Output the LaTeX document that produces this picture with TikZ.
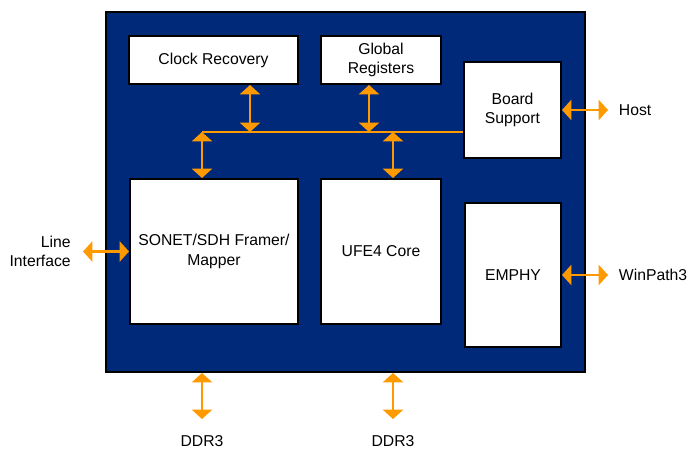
\documentclass[tikz,border=0pt]{standalone}
\usepackage{fontspec}
\setmainfont{Liberation Sans}
\usetikzlibrary{arrows.meta,positioning}
\definecolor{chipblue}{RGB}{0,41,122}
\definecolor{busorange}{RGB}{255,153,0}

\begin{document}
\begin{tikzpicture}[x=0.75pt,y=-0.75pt]
  \tikzstyle{block}=[rectangle, draw, fill=white, line width=1.5pt, align=center, inner sep=0pt, font=\fontsize{11.8}{14.5}\selectfont]
  \tikzstyle{extlabel}=[inner sep=0pt, align=center, font=\fontsize{11.8}{14.5}\selectfont]
  \tikzstyle{link}=[<->, >={Triangle[width=15pt,length=7pt]}, draw=busorange, line width=1.8pt]

  \useasboundingbox (0,0) rectangle (689,449);

  % chip outline
  \node[draw, fill=chipblue, line width=1.5pt, minimum width=359.25pt, minimum height=270pt, inner sep=0pt] (chip) at (345.5,192) {};

  % = top row =
  \node[block, minimum width=126.75pt, minimum height=36pt] (clock) at (213.5,60) {Clock Recovery};
  \node[block, minimum width=90pt, minimum height=36pt] (global) at (381,60) {Global\\Registers};
  \node[block, minimum width=72.75pt, minimum height=72pt] (board) at (512.5,110) {Board\\Support};

  % = data path =
  \node[block, minimum width=126pt, minimum height=108.75pt] (framer) at (214,251.5) {SONET/SDH Framer/\\Mapper};
  \node[block, minimum width=90pt, minimum height=108.75pt] (ufe) at (381,251.5) {UFE4 Core};
  \node[block, minimum width=72pt, minimum height=108pt] (emphy) at (513,275) {EMPHY};

  % internal bus
  \coordinate (busleft) at (202,132);
  \coordinate (busmid) at (393,132);
  \draw[busorange, line width=1.5pt] (busleft) -- (busleft -| board.west);
  \draw[link] (clock.south -| 250,0) -- (busleft -| 250,0);
  \draw[link] (global.south -| 369,0) -- (busleft -| 369,0);
  \draw[link] (busleft) -- (busleft |- framer.north);
  \draw[link] (busmid) -- (busmid |- ufe.north);

  % = external interfaces =
  \draw[link] (board.east) -- ++(46,0) coordinate (hostend);
  \node[extlabel, right=8pt of hostend] (host) {Host};
  \draw[link] (emphy.east) -- ++(46,0) coordinate (wpend);
  \node[extlabel, right=8pt of wpend] (winpath) {WinPath3};
  \draw[link] (framer.west) -- ++(-46,0) coordinate (lineend);
  \node[extlabel, align=right, left=9pt of lineend] (lineif) {Line\\Interface};

  % memories
  \draw[link] (chip.south -| busleft) -- ++(0,46) coordinate (ddrAend);
  \node[extlabel, below=12.5pt of ddrAend] (ddrA) {DDR3};
  \draw[link] (chip.south -| busmid) -- ++(0,46) coordinate (ddrBend);
  \node[extlabel, below=12.5pt of ddrBend] (ddrB) {DDR3};
\end{tikzpicture}
\end{document}
